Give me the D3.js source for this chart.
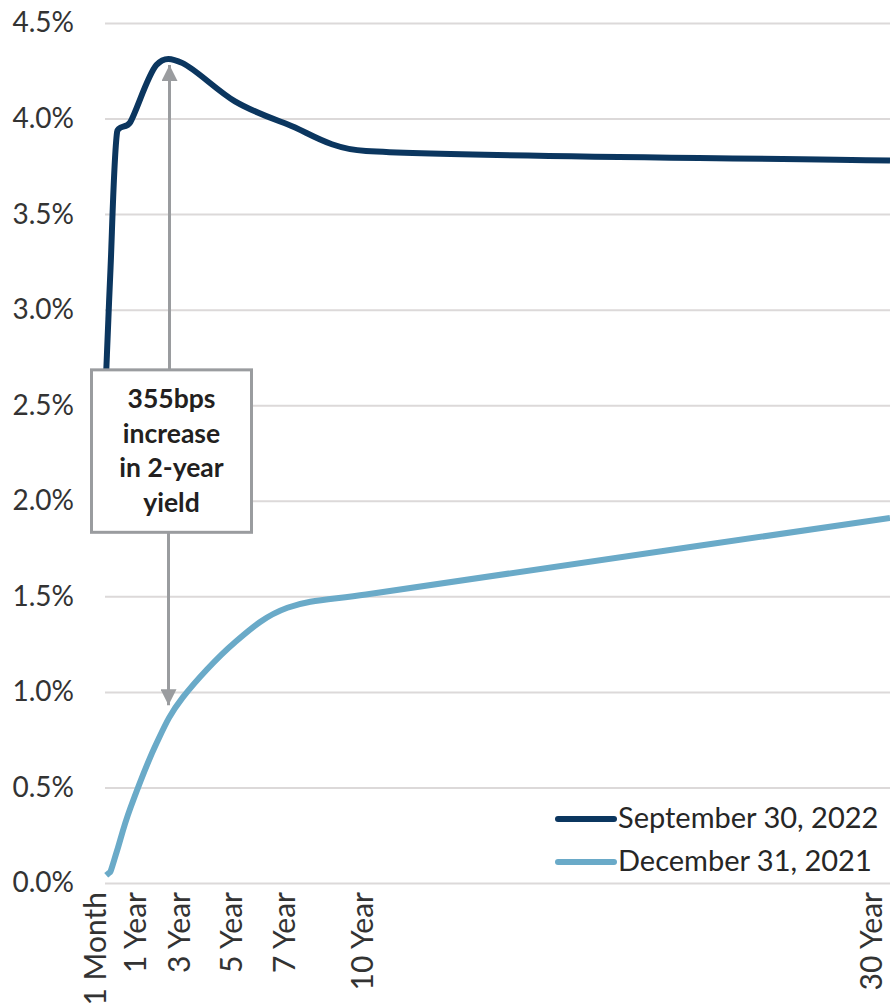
<!DOCTYPE html>
<html>
<head>
<meta charset="utf-8">
<script src="https://cdn.jsdelivr.net/npm/d3@7"></script>
<style>
  html, body { margin: 0; padding: 0; background: #ffffff; }
  svg { display: block; }
  text { font-family: Lato, "Open Sans", sans-serif; }
</style>
</head>
<body>
<svg id="chart" width="890" height="1005"></svg>
<script>
// Treasury yield curve: maturities in years, yields in percent
const maturities = [1/12, 2/12, 3/12, 0.5, 1, 2, 3, 5, 7, 10, 30];
const sep2022 = [2.67, 2.95, 3.22, 3.93, 3.98, 4.28, 4.29, 4.09, 3.97, 3.83, 3.78];
const dec2021 = [0.04, 0.05, 0.06, 0.17, 0.39, 0.73, 0.97, 1.26, 1.44, 1.51, 1.91];

const seriesNames = ["September 30, 2022", "December 31, 2021"];
const seriesColors = ["#0b365f", "#6aaac8"];

const xTickYears = [1/12, 1, 3, 5, 7, 10, 30];
const xTickLabels = ["1 Month", "1 Year", "3 Year", "5 Year", "7 Year", "10 Year", "30 Year"];
const yTicks = [0, 0.5, 1, 1.5, 2, 2.5, 3, 3.5, 4, 4.5];

// Annotation: change in the 2-year yield
const annotationLines = ["355bps", "increase", "in 2-year", "yield"];
const arrowYear = 2.5;
const arrowTop = 4.28;
const arrowBottom = 0.93;
const boxTop = 2.685;
const boxBottom = 1.835;

const svg = d3.select("#chart");
const W = 890, H = 1005;
svg.append("rect").attr("width", W).attr("height", H).attr("fill", "#fff");

const x = d3.scaleLinear().domain([0, 30]).range([104, 890]);
const y = d3.scaleLinear().domain([0, 4.5]).range([883, 23]);

// Spreadsheet-style smoothed line: Catmull-Rom tangents in screen space,
// with each Bezier handle capped to a share of its segment so that short
// segments next to long ones do not loop.
function curveSmoothed(context) {
  let pts;
  return {
    areaStart() {}, areaEnd() {},
    lineStart() { pts = []; },
    point(px, py) { pts.push([+px, +py]); },
    lineEnd() {
      const n = pts.length;
      if (!n) return;
      context.moveTo(pts[0][0], pts[0][1]);
      if (n === 1) return;
      const len = (a, b) => Math.hypot(b[0] - a[0], b[1] - a[1]);
      const tan = pts.map((p, i) => {
        const a = pts[Math.max(0, i - 1)], b = pts[Math.min(n - 1, i + 1)];
        const k = (i === 0 || i === n - 1) ? 1 : 0.5;
        return [(b[0] - a[0]) * k, (b[1] - a[1]) * k];
      });
      const handle = (i, segLen, dir) => {
        const t = tan[i];
        const tl = Math.hypot(t[0], t[1]) || 1;
        const d = Math.min(tl / 3, 0.45 * segLen);
        return [pts[i][0] + dir * t[0] / tl * d, pts[i][1] + dir * t[1] / tl * d];
      };
      for (let i = 0; i < n - 1; i++) {
        const L = len(pts[i], pts[i + 1]);
        const c1 = handle(i, L, 1);
        const c2 = handle(i + 1, L, -1);
        context.bezierCurveTo(c1[0], c1[1], c2[0], c2[1], pts[i + 1][0], pts[i + 1][1]);
      }
    }
  };
}

// horizontal gridlines + y labels
const yAxis = d3.axisLeft(y)
  .tickValues(yTicks)
  .tickSize(-(890 - 105))
  .tickPadding(31)
  .tickFormat(d => d.toFixed(1) + "%");
const gy = svg.append("g").attr("transform", "translate(105,0)").call(yAxis);
gy.select(".domain").remove();
gy.selectAll(".tick line").attr("stroke", "#dcd9d9").attr("stroke-width", 2);
gy.selectAll(".tick text")
  .attr("font-size", 28)
  .attr("fill", "#333")
  .attr("font-family", "Lato, 'Open Sans', sans-serif");

// x axis labels, rotated; nudged apart where they would collide and kept
// inside the right edge
const xFont = 30;
const capH = xFont * 0.72;
const minGap = 40;
const centers = xTickYears.map(t => x(t) - 4);
for (let i = 1; i < centers.length; i++) {
  const gap = centers[i] - centers[i - 1];
  if (gap < minGap) {
    const d = (minGap - gap) / 2;
    centers[i - 1] -= d;
    centers[i] += d;
  }
}
for (let i = 0; i < centers.length; i++) {
  centers[i] = Math.min(centers[i], W - 1 - capH / 2 - xFont * 0.24);
}

const xAxis = d3.axisBottom(x)
  .tickValues(xTickYears)
  .tickSize(0)
  .tickFormat((d, i) => xTickLabels[i]);
const gx = svg.append("g").attr("transform", "translate(0,883)").call(xAxis);
gx.select(".domain").remove();
gx.selectAll(".tick text")
  .attr("font-size", xFont)
  .attr("fill", "#333")
  .attr("font-family", "Lato, 'Open Sans', sans-serif")
  .attr("text-anchor", "end")
  .attr("transform", (d, i) => `translate(${centers[i] - x(d)},0) rotate(-90)`)
  .attr("x", -9)
  .attr("y", 0)
  .attr("dy", capH / 2);

// yield curves
const line = d3.line()
  .x(d => x(d[0]))
  .y(d => y(d[1]))
  .curve(curveSmoothed);

const series = [dec2021, sep2022];
const colors = [seriesColors[1], seriesColors[0]];
series.forEach((vals, i) => {
  svg.append("path")
    .datum(maturities.map((m, j) => [m, vals[j]]))
    .attr("d", line)
    .attr("fill", "none")
    .attr("stroke", colors[i])
    .attr("stroke-width", 6)
    .attr("stroke-linejoin", "round")
    .attr("stroke-linecap", "butt");
});

// annotation arrows and box
const grey = "#9a9c9f";
const defs = svg.append("defs");
defs.append("marker")
  .attr("id", "head")
  .attr("viewBox", "0 0 10 10")
  .attr("refX", 10).attr("refY", 5)
  .attr("markerUnits", "userSpaceOnUse")
  .attr("markerWidth", 16).attr("markerHeight", 16)
  .attr("orient", "auto")
  .append("path")
  .attr("d", "M0,0 L10,5 L0,10 Z")
  .attr("fill", grey);

const ax = x(arrowYear);
svg.append("line")
  .attr("x1", ax).attr("x2", ax)
  .attr("y1", y(boxTop)).attr("y2", y(arrowTop))
  .attr("stroke", grey).attr("stroke-width", 3)
  .attr("marker-end", "url(#head)");
svg.append("line")
  .attr("x1", ax - 1).attr("x2", ax - 1)
  .attr("y1", y(boxBottom)).attr("y2", y(arrowBottom))
  .attr("stroke", grey).attr("stroke-width", 3)
  .attr("marker-end", "url(#head)");

const boxW = 160;
svg.append("rect")
  .attr("x", ax + 2 - boxW / 2)
  .attr("y", y(boxTop))
  .attr("width", boxW)
  .attr("height", y(boxBottom) - y(boxTop))
  .attr("fill", "#fff")
  .attr("stroke", grey)
  .attr("stroke-width", 3);

svg.append("g").selectAll("text")
  .data(annotationLines)
  .join("text")
  .attr("x", ax + 2)
  .attr("y", (d, i) => y(boxTop) + 38 + i * 34.8)
  .attr("text-anchor", "middle")
  .attr("font-size", 26.5)
  .attr("font-weight", "bold")
  .attr("fill", "#231f20")
  .text(d => d);

// legend
const legend = svg.append("g").attr("transform", "translate(558,819)");
seriesNames.forEach((name, i) => {
  const g = legend.append("g").attr("transform", `translate(0,${i * 43})`);
  g.append("line")
    .attr("x1", 0).attr("x2", 56)
    .attr("stroke", seriesColors[i])
    .attr("stroke-width", 6)
    .attr("stroke-linecap", "round");
  g.append("text")
    .attr("x", 60)
    .attr("y", 9)
    .attr("font-size", 29)
    .attr("fill", "#262626")
    .text(name);
});
</script>
</body>
</html>
